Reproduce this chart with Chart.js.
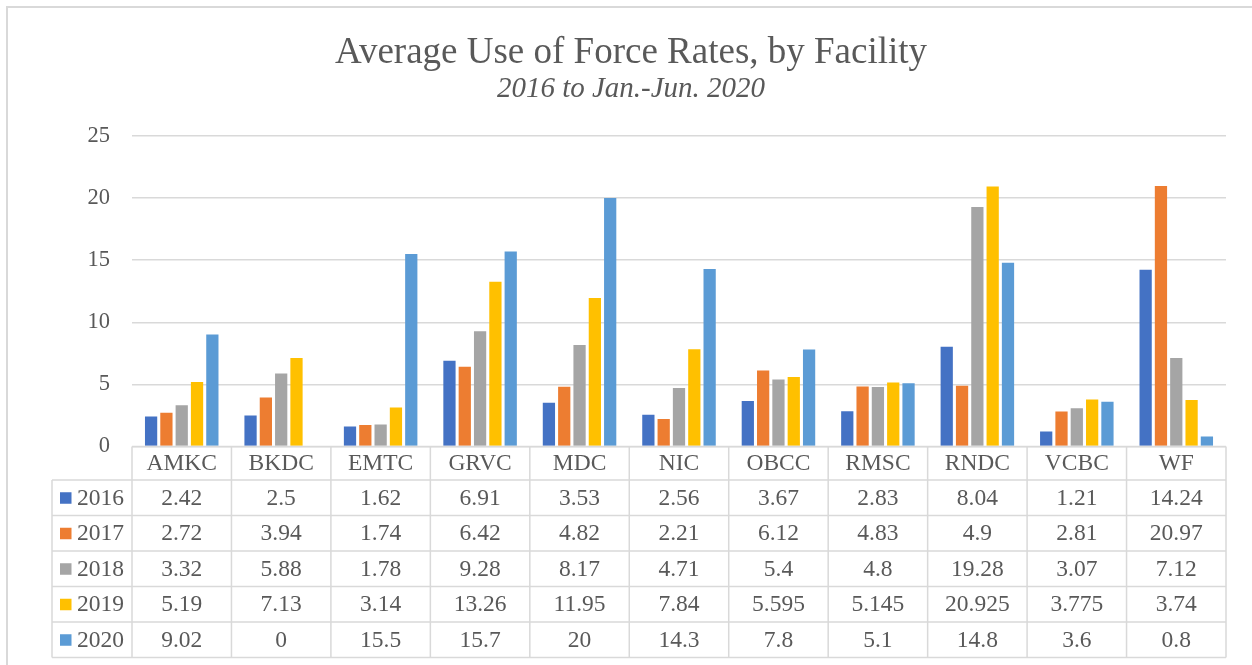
<!DOCTYPE html>
<html>
<head>
<meta charset="utf-8">
<script src="https://cdn.jsdelivr.net/npm/chart.js@4/dist/chart.umd.min.js"></script>
<style>
  body { margin: 0; background: #fff; }
  #wrap { width: 1252px; height: 665px; position: relative; }
</style>
</head>
<body>
<div id="wrap"><canvas id="forceChart"></canvas></div>
<script>
// data
const categories = ['AMKC', 'BKDC', 'EMTC', 'GRVC', 'MDC', 'NIC', 'OBCC', 'RMSC', 'RNDC', 'VCBC', 'WF'];
const years = ['2016', '2017', '2018', '2019', '2020'];
const v2016 = [2.42, 2.5, 1.62, 6.91, 3.53, 2.56, 3.67, 2.83, 8.04, 1.21, 14.24];
const v2017 = [2.72, 3.94, 1.74, 6.42, 4.82, 2.21, 6.12, 4.83, 4.9, 2.81, 20.97];
const v2018 = [3.32, 5.88, 1.78, 9.28, 8.17, 4.71, 5.4, 4.8, 19.28, 3.07, 7.12];
const v2019 = [5.19, 7.13, 3.14, 13.26, 11.95, 7.84, 5.595, 5.145, 20.925, 3.775, 3.74];
const v2020 = [9.02, 0, 15.5, 15.7, 20, 14.3, 7.8, 5.1, 14.8, 3.6, 0.8];
const yTicks = [0, 5, 10, 15, 20, 25];

const seriesValues = [v2016, v2017, v2018, v2019, v2020];
const colors = ['#4472C4', '#ED7D31', '#A5A5A5', '#FFC000', '#5B9BD5'];

const serif = '"Liberation Serif", "Times New Roman", serif';
const textColor = '#595959';
const lineColor = '#d9d9d9';

// title, frame and the data table under the plot
const tablePlugin = {
    id: 'excelTable',
    beforeDraw(chart) {
        const c = chart.ctx;
        c.save();
        c.fillStyle = '#fff';
        c.fillRect(0, 0, chart.width, chart.height);
        c.strokeStyle = lineColor;
        c.lineWidth = 2;
        c.beginPath();
        c.moveTo(7, chart.height);
        c.lineTo(7, 7);
        c.lineTo(chart.width, 7);
        c.stroke();
        c.restore();
    },
    afterDraw(chart) {
        const c = chart.ctx;
        const area = chart.chartArea;
        const x = chart.scales.x;
        const catW = (area.right - area.left) / categories.length;
        const headTop = area.bottom;
        const headBottom = headTop + 33.5;
        const rowH = 35.5;
        const legendLeft = 52;
        const tableBottom = headBottom + rowH * years.length;

        c.save();
        // title
        c.fillStyle = textColor;
        c.textAlign = 'center';
        c.textBaseline = 'alphabetic';
        c.font = '37px ' + serif;
        c.fillText('Average Use of Force Rates, by Facility', 631, 63);
        c.font = 'italic 29px ' + serif;
        c.fillText('2016 to Jan.-Jun. 2020', 631, 97);

        // grid lines of the table
        c.strokeStyle = lineColor;
        c.lineWidth = 1.5;
        c.beginPath();
        c.moveTo(area.left, headTop);
        c.lineTo(area.right, headTop);
        for (let r = 0; r <= years.length; r++) {
            const yy = headBottom + r * rowH;
            c.moveTo(legendLeft, yy);
            c.lineTo(area.right, yy);
        }
        for (let i = 0; i <= categories.length; i++) {
            const xx = area.left + i * catW;
            c.moveTo(xx, headTop);
            c.lineTo(xx, tableBottom);
        }
        c.moveTo(legendLeft, headBottom);
        c.lineTo(legendLeft, tableBottom);
        c.stroke();

        // header and cells
        c.font = '23.5px ' + serif;
        c.textBaseline = 'middle';
        c.textAlign = 'center';
        c.fillStyle = textColor;
        categories.forEach((cat, i) => {
            c.fillText(cat, x.getPixelForValue(i), (headTop + headBottom) / 2 + 1);
        });
        years.forEach((yr, r) => {
            const cy = headBottom + r * rowH + rowH / 2 + 1;
            c.fillStyle = colors[r];
            c.fillRect(60, cy - 6.5, 11.5, 11.5);
            c.fillStyle = textColor;
            c.textAlign = 'left';
            c.fillText(yr, 77, cy);
            c.textAlign = 'center';
            seriesValues[r].forEach((v, i) => {
                c.fillText(String(v), x.getPixelForValue(i), cy);
            });
        });
        c.restore();
    }
};

const ctx = document.getElementById('forceChart').getContext('2d');
const forceChart = new Chart(ctx, {
    type: 'bar',
    data: {
        labels: categories,
        datasets: years.map((yr, i) => ({
            label: yr,
            data: seriesValues[i],
            backgroundColor: colors[i],
            borderWidth: 0,
            categoryPercentage: 0.77,
            barPercentage: 0.8
        }))
    },
    options: {
        responsive: true,
        maintainAspectRatio: false,
        animation: false,
        devicePixelRatio: 1,
        layout: {
            padding: { left: 0, right: 26, top: 136, bottom: 218.5 }
        },
        plugins: {
            legend: { display: false },
            title: { display: false },
            tooltip: { enabled: false }
        },
        scales: {
            x: {
                display: false
            },
            y: {
                min: 0,
                max: 25,
                afterFit: function(scale) { scale.width = 132; },
                afterBuildTicks: function(scale) {
                    scale.ticks = yTicks.map(v => ({ value: v }));
                },
                border: { display: false },
                grid: { color: lineColor, lineWidth: 1.5, drawTicks: false },
                ticks: {
                    padding: 22,
                    color: textColor,
                    font: { family: serif, size: 22.5 }
                }
            }
        }
    },
    plugins: [tablePlugin]
});
</script>
</body>
</html>
